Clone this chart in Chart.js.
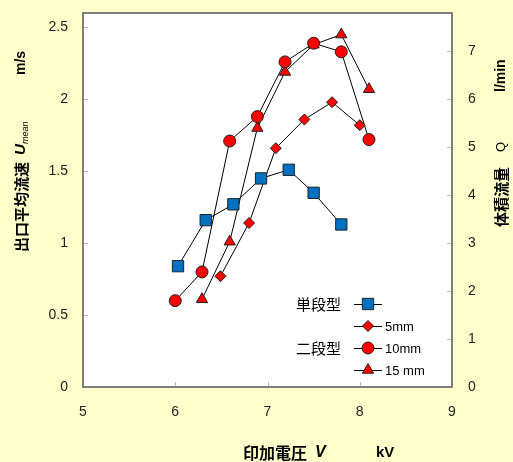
<!DOCTYPE html>
<html>
<head>
<meta charset="utf-8">
<script src="https://cdn.jsdelivr.net/npm/chart.js@4/dist/chart.umd.min.js"></script>
<style>
html,body{margin:0;padding:0;background:#ffffcc;}
#wrap{width:513px;height:462px;position:relative;}
</style>
</head>
<body>
<div id="wrap"><canvas id="chart"></canvas></div>
<script>
// applied voltage kV / mean outlet velocity m/s
const singleV = [6.03, 6.33, 6.63, 6.93, 7.23, 7.5, 7.8];
const singleU = [0.84, 1.16, 1.27, 1.45, 1.51, 1.35, 1.13];
const twoV5 = [6.49, 6.8, 7.09, 7.4, 7.7, 8.0];
const twoU5 = [0.77, 1.14, 1.66, 1.86, 1.98, 1.82];
const twoV10 = [6.0, 6.29, 6.59, 6.89, 7.19, 7.5, 7.8, 8.1];
const twoU10 = [0.6, 0.8, 1.71, 1.88, 2.26, 2.39, 2.33, 1.72];
const twoV15 = [6.29, 6.59, 6.89, 7.19, 7.5, 7.8, 8.1];
const twoU15 = [0.61, 1.01, 1.8, 2.19, 2.38, 2.45, 2.07];

const seriesLabels = ["単段型", "5mm", "10mm", "15 mm"];
const legendGroups = ["単段型", "", "二段型", ""];
const legendTexts = ["", "5mm", "10mm", "15 mm"];

const xTicks = [5, 6, 7, 8, 9];
const uTicks = [0, 0.5, 1, 1.5, 2, 2.5];
const qTicks = [0, 1, 2, 3, 4, 5, 6, 7];

const latin = '"Liberation Sans", Arial, sans-serif';
const cjk = '"Noto Sans CJK JP", sans-serif';

const pts = (xs, ys) => xs.map((x, i) => ({x: x, y: ys[i]}));

const lineBase = {borderColor: "#000", borderWidth: 1, pointBorderColor: "#222", pointBorderWidth: 1, tension: 0, showLine: true};

const keepTicks = list => scale => { scale.ticks = list.map(v => ({value: v})); };

function fixSize(prop, size){
    return s => {
        s[prop] = size;
        s.paddingTop = 0; s.paddingBottom = 0; s.paddingLeft = 0; s.paddingRight = 0;
    };
}

const plotBox = {
    id: "plotBox",
    beforeDraw(chart){
        const {ctx, chartArea: a} = chart;
        ctx.save();
        ctx.fillStyle = "#fff";
        ctx.fillRect(a.left, a.top, a.right - a.left, a.bottom - a.top);
        ctx.restore();
    },
    beforeDatasetsDraw(chart){
        const {ctx, chartArea: a, scales} = chart;
        ctx.save();
        ctx.strokeStyle = "#b8b8b8";
        ctx.lineWidth = 1;
        ctx.beginPath();
        xTicks.forEach(v => { const p = Math.round(scales.x.getPixelForValue(v)) + 0.5; ctx.moveTo(p, a.bottom); ctx.lineTo(p, a.bottom - 5); });
        uTicks.forEach(v => { const p = Math.round(scales.y.getPixelForValue(v)) + 0.5; ctx.moveTo(a.left, p); ctx.lineTo(a.left + 5, p); });
        qTicks.forEach(v => { const p = Math.round(scales.y2.getPixelForValue(v)) + 0.5; ctx.moveTo(a.right, p); ctx.lineTo(a.right - 5, p); });
        ctx.stroke();
        ctx.strokeStyle = "#808080";
        ctx.lineWidth = 2;
        ctx.strokeRect(a.left, a.top, a.right - a.left, a.bottom - a.top);
        ctx.restore();
    }
};

function drawRun(ctx, x, y, rotated, segs){
    ctx.save();
    ctx.translate(x, y);
    if (rotated) ctx.rotate(-Math.PI / 2);
    ctx.fillStyle = "#000";
    ctx.textAlign = "left";
    ctx.textBaseline = "middle";
    segs.forEach(s => { ctx.font = s.font; ctx.fillText(s.t, s.at, s.dy || 0); });
    ctx.restore();
}

const titles = {
    id: "titles",
    afterDraw(chart){
        const ctx = chart.ctx;
        drawRun(ctx, 21, 252, true, [
            {t: "出口平均流速", font: "bold 15px " + cjk, at: 0},
            {t: "U", font: "italic bold 15px " + latin, at: 97},
            {t: "mean", font: "italic 9px " + latin, at: 108, dy: 4},
            {t: "m/s", font: "bold 14px " + latin, at: 177}
        ]);
        drawRun(ctx, 501, 227, true, [
            {t: "体積流量", font: "bold 15px " + cjk, at: 0},
            {t: "Q", font: "13px " + latin, at: 75},
            {t: "l/min", font: "bold 14px " + latin, at: 135}
        ]);
        drawRun(ctx, 243, 453, false, [
            {t: "印加電圧", font: "bold 16px " + cjk, at: 0},
            {t: "V", font: "italic bold 16px " + latin, at: 72},
            {t: "kV", font: "bold 15px " + latin, at: 133}
        ]);
    }
};

const legendRows = [304, 326, 348, 370];
const keyBox = {
    id: "keyBox",
    afterDraw(chart){
        const ctx = chart.ctx;
        ctx.save();
        chart.data.datasets.forEach((ds, i) => {
            const y = legendRows[i];
            ctx.strokeStyle = "#000";
            ctx.lineWidth = 1;
            ctx.beginPath();
            ctx.moveTo(354, y + 0.5); ctx.lineTo(382, y + 0.5);
            ctx.stroke();
            ctx.fillStyle = ds.pointBackgroundColor;
            ctx.strokeStyle = ds.pointBorderColor;
            Chart.helpers.drawPoint(ctx, {pointStyle: ds.pointStyle, radius: ds.pointRadius, rotation: 0, borderWidth: 1}, 368, y);
            ctx.fillStyle = "#000";
            ctx.textBaseline = "middle";
            if (legendTexts[i]) {
                ctx.textAlign = "left";
                ctx.font = "13px " + latin;
                ctx.fillText(legendTexts[i], 385, y + 1);
            }
            if (legendGroups[i]) {
                ctx.textAlign = "right";
                ctx.font = "15px " + cjk;
                ctx.fillText(legendGroups[i], 341, y);
            }
        });
        ctx.restore();
    }
};

const tickFont = {size: 14, family: latin};
const plain = v => String(v);

new Chart(document.getElementById("chart"), {
    type: "scatter",
    data: {
        datasets: [
            Object.assign({}, lineBase, {label: seriesLabels[0], data: pts(singleV, singleU), pointStyle: "rect", pointRadius: 8, pointBackgroundColor: "#0070c0"}),
            Object.assign({}, lineBase, {label: seriesLabels[1], data: pts(twoV5, twoU5), pointStyle: "rectRot", pointRadius: 5.5, pointBackgroundColor: "#ff0000"}),
            Object.assign({}, lineBase, {label: seriesLabels[2], data: pts(twoV10, twoU10), pointStyle: "circle", pointRadius: 6, pointBackgroundColor: "#ff0000"}),
            Object.assign({}, lineBase, {label: seriesLabels[3], data: pts(twoV15, twoU15), pointStyle: "triangle", pointRadius: 6.5, pointBackgroundColor: "#ff0000"})
        ]
    },
    options: {
        responsive: true,
        maintainAspectRatio: false,
        animation: false,
        layout: {padding: {top: 13, left: 0, right: 0, bottom: 0}},
        plugins: {legend: {display: false}, tooltip: {enabled: false}},
        scales: {
            x: {
                type: "linear", position: "bottom", min: 5, max: 9,
                grid: {display: false, drawTicks: false}, border: {display: false},
                ticks: {color: "#222", font: tickFont, padding: 17, callback: plain},
                afterBuildTicks: keepTicks(xTicks),
                afterFit: fixSize("height", 75)
            },
            y: {
                type: "linear", position: "left", min: 0, max: 2.6,
                grid: {display: false, drawTicks: false}, border: {display: false},
                ticks: {color: "#222", font: tickFont, padding: 15, callback: plain},
                afterBuildTicks: keepTicks(uTicks),
                afterFit: fixSize("width", 83)
            },
            y2: {
                type: "linear", position: "right", min: 0, max: 7.8,
                grid: {display: false, drawTicks: false}, border: {display: false},
                ticks: {color: "#222", font: tickFont, padding: 16, callback: plain},
                afterBuildTicks: keepTicks(qTicks),
                afterFit: fixSize("width", 61)
            }
        }
    },
    plugins: [plotBox, titles, keyBox]
});
</script>
</body>
</html>
